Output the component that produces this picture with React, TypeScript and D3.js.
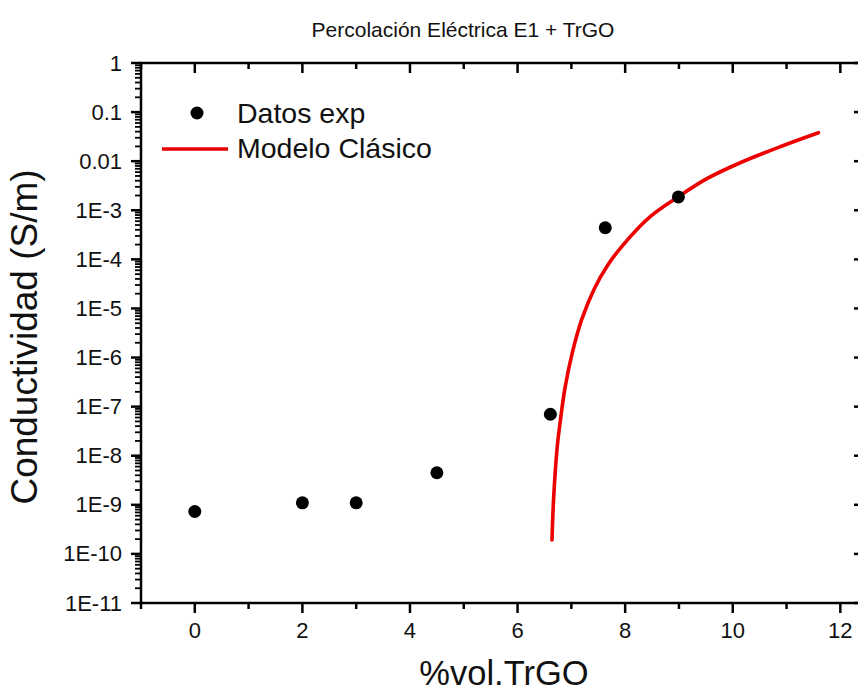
import React from "react";
import * as d3 from "d3";

// Experimental conductivity measurements
const expVol = [0, 2, 3, 4.5, 6.61, 7.63, 8.99];
const expSigma = [7.3e-10, 1.1e-9, 1.1e-9, 4.5e-9, 7.0e-8, 4.4e-4, 1.87e-3];

// Classical percolation model curve (sampled)
const modelVol = [6.64, 6.672, 6.738, 6.797, 6.886, 7.015, 7.19, 7.425, 7.675, 7.975, 8.466, 8.991, 9.519, 10.138, 10.88, 11.592];
const modelSigma = [1.93e-10, 1.47e-9, 1.53e-8, 5.36e-8, 2.55e-7, 1.22e-6, 5.83e-6, 2.5e-5, 7.6e-5, 2.05e-4, 7.41e-4, 1.89e-3, 4.4e-3, 9.3e-3, 1.97e-2, 3.8e-2];

const xTicks = [0, 2, 4, 6, 8, 10, 12];
const xMinor = [-1, 1, 3, 5, 7, 9, 11];
const yTickLabels = ["1E-11", "1E-10", "1E-9", "1E-8", "1E-7", "1E-6", "1E-5", "1E-4", "1E-3", "0.01", "0.1", "1"];
const yTickValues = [1e-11, 1e-10, 1e-9, 1e-8, 1e-7, 1e-6, 1e-5, 1e-4, 1e-3, 1e-2, 1e-1, 1];

const W = 858;
const H = 691;
const left = 141;
const right = 864;
const top = 63;
const bottom = 603;
const FONT = "'Liberation Sans', Arial, sans-serif";
const RED = "#ec0000";

export default function App() {
  const x = d3.scaleLinear().domain([-1, 12.44]).range([left, right]);
  const y = d3.scaleLog().domain([1e-11, 1]).range([bottom, top]);

  const yMinor: number[] = [];
  for (let e = -11; e < 0; e++) {
    for (let m = 2; m <= 9; m++) yMinor.push(m * Math.pow(10, e));
  }

  const modelPts: [number, number][] = modelVol.map((v, i) => [v, modelSigma[i]]);
  const line = d3
    .line<[number, number]>()
    .x((d) => x(d[0]))
    .y((d) => y(d[1]))
    .curve(d3.curveCatmullRom.alpha(0.5));

  const axisColor = "#000";
  const sw = 2.5;

  return (
    <svg
      width={W}
      height={H}
      style={{ position: "absolute", left: 0, top: 0, background: "#fff" }}
      fontFamily={FONT}
    >
      <rect x={0} y={0} width={W} height={H} fill="#fff" />
      {/* title */}
      <text x={463} y={37} fontSize={21} textAnchor="middle" fill="#111">
        Percolación Eléctrica E1 + TrGO
      </text>

      {/* model curve */}
      <path d={line(modelPts) || ""} fill="none" stroke={RED} strokeWidth={3.6} strokeLinecap="round" />

      {/* experimental points */}
      {expVol.map((v, i) => (
        <circle key={i} cx={x(v)} cy={y(expSigma[i])} r={6.5} fill="#000" />
      ))}

      {/* frame */}
      <rect x={left} y={top} width={right - left} height={bottom - top} fill="none" stroke={axisColor} strokeWidth={sw} />

      {/* bottom & top ticks */}
      {xTicks.map((t) => (
        <g key={"xt" + t}>
          <line x1={x(t)} x2={x(t)} y1={bottom} y2={bottom + 10} stroke={axisColor} strokeWidth={sw} />
          <line x1={x(t)} x2={x(t)} y1={top} y2={top + 10} stroke={axisColor} strokeWidth={sw} />
          <text x={x(t)} y={bottom + 35} fontSize={22} textAnchor="middle" fill="#111">
            {t}
          </text>
        </g>
      ))}
      {xMinor.map((t) => (
        <g key={"xm" + t}>
          <line x1={x(t)} x2={x(t)} y1={bottom} y2={bottom + 6} stroke={axisColor} strokeWidth={sw} />
          <line x1={x(t)} x2={x(t)} y1={top} y2={top + 6} stroke={axisColor} strokeWidth={sw} />
        </g>
      ))}

      {/* left & right ticks */}
      {yTickValues.map((v, i) => (
        <g key={"yt" + i}>
          <line x1={left - 10} x2={left} y1={y(v)} y2={y(v)} stroke={axisColor} strokeWidth={sw} />
          <line x1={right - 10} x2={right} y1={y(v)} y2={y(v)} stroke={axisColor} strokeWidth={sw} />
          <text x={122} y={y(v)} fontSize={22} textAnchor="end" dominantBaseline="central" fill="#111">
            {yTickLabels[i]}
          </text>
        </g>
      ))}
      {yMinor.map((v, i) => (
        <g key={"ym" + i}>
          <line x1={left - 6} x2={left} y1={y(v)} y2={y(v)} stroke={axisColor} strokeWidth={1.8} />
          <line x1={right - 5} x2={right} y1={y(v)} y2={y(v)} stroke={axisColor} strokeWidth={1.8} />
        </g>
      ))}

      {/* axis titles */}
      <text x={504} y={685} fontSize={34.5} textAnchor="middle" fill="#111">
        %vol.TrGO
      </text>
      <text
        transform={`translate(37, ${337}) rotate(-90)`}
        fontSize={37}
        textAnchor="middle"
        fill="#111"
      >
        Conductividad (S/m)
      </text>

      {/* legend */}
      <circle cx={197} cy={113} r={6.5} fill="#000" />
      <text x={237} y={123} fontSize={28.5} fill="#111">
        Datos exp
      </text>
      <line x1={162} x2={228} y1={149} y2={149} stroke={RED} strokeWidth={3.6} />
      <text x={237} y={158} fontSize={28.5} fill="#111">
        Modelo Clásico
      </text>
    </svg>
  );
}
